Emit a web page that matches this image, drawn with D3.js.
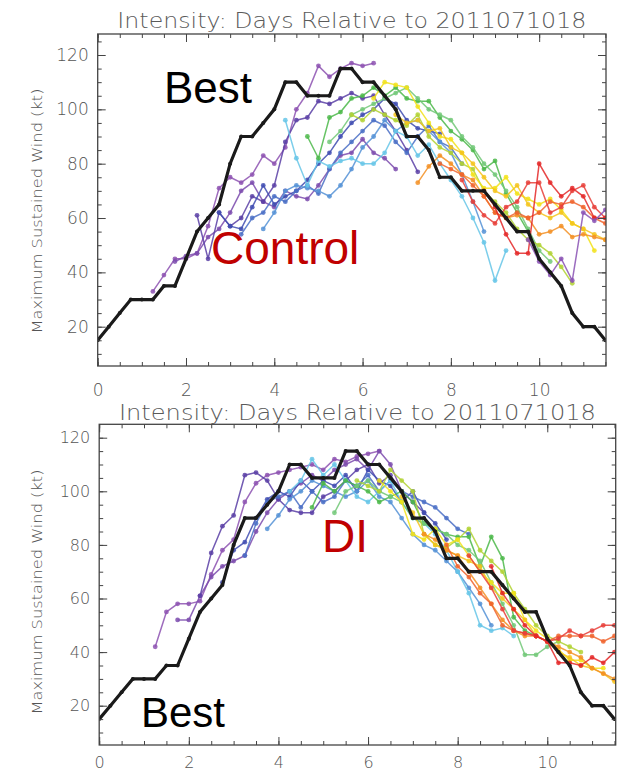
<!DOCTYPE html>
<html><head><meta charset="utf-8">
<script src="https://cdn.jsdelivr.net/npm/d3@7"></script>
<style>body{margin:0;background:#fff}svg{display:block}</style></head>
<body><svg id="chart" width="620" height="772"></svg>
<script>
// ---------------- DATA ----------------
const stepDays = 0.25;
const titleText = "Intensity: Days Relative to 2011071018";
const yAxisTitle = "Maximum Sustained Wind (kt)";
const xTicks = [0, 2, 4, 6, 8, 10];
const yTicks = [20, 40, 60, 80, 100, 120];
// Best track, every 6 h from day 0
const bestWind = [15,20,25,30,30,30,35,35,45,55,60,65,80,90,90,95,100,110,110,105,105,105,115,115,110,110,105,100,90,90,85,75,75,70,70,70,65,60,55,55,45,40,35,25,20,20,15];

// Control ensemble: start day of each forecast and its 6-hourly winds
const controlStart = [1.25,1.75,2.25,2.75,3.25,3.75,4.25,4.75,5.25,5.75,6.25,6.75,7.25,7.75,8.25,8.75,9.75];
const controlWind = [
  [33,39,45,45,47,57,71,75,73,76,83,80,86,100,106,116,112,115,117,116,117],
  [44,46,47,53,56,62,70,73,66,64,70,68,67,72,78,83,84,89,84,82,78],
  [61,45,62,57,60,68,66,72,88,96,97,103,102,104,106,104,105,98,92,85,77],
  [62,57,56,64,72,65,68,70,74,80,84,90,95,98,100,104,102,96,93,92,91],
  [54,60,62,68,66,70,72,69,78,84,88,92,96,94,88,84,90,94,88,86,80],
  [56,62,70,72,71,70,68,72,78,86,90,96,92,95,96,92,88,84,76,66,55],
  [96,82,72,81,79,81,82,80,80,84,92,90,83,87,80,74,68,60,51,37,48],
  [90,82,97,99,104,105,108,105,108,104,103,103,97,92,89,85,78,81,69,62,55],
  [88,92,98,100,102,104,106,108,104,100,98,96,90,86,80,76,70,64,56,48,44],
  [98,96,100,98,96,94,98,90,86,84,80,78,70,66,62,56,52,50,47,42,36],
  [104,110,109,108,101,95,90,89,84,76,71,71,75,69,67,65,67,63,58,56,48],
  [98,95,96,92,93,86,84,80,75,70,68,72,65,62,60,62,58,56,54,52],
  [73,79,83,80,76,74,68,62,60,61,60,54,55,57,53,54,53,52],
  [80,78,76,72,68,62,60,62,60,62,66,65,66,64,60,58],
  [74,66,61,58,64,66,73,73,62,64,70,72,64,60],
  [70,64,54,47,47,80,73,68,71,68,60,60],
  [52,44,39,45,37,62,59,63]
];

// DI ensemble
const diStart = [1.25,1.75,2.25,2.75,3.25,3.75,4.25,4.75,5.25,5.75,6.25,6.75,7.25,7.75,8.25,8.75];
const diWind = [
  [42,55,58,58,59,69,78,82,96,103,106,107,108,109,110,108,112,111,113,114,115],
  [52,52,61,68,72,74,76,85,92,97,100,103,106,104,108,110,112,108,115,110,100],
  [61,77,87,91,106,107,104,97,93,92,92,98,100,104,108,110,103,106,100,96,92],
  [66,78,81,90,97,100,98,104,100,104,102,106,100,108,104,102,96,100,92,88,82],
  [76,88,96,98,100,94,100,96,98,104,102,106,100,104,100,98,96,94,90,86,84],
  [86,91,97,100,104,102,100,98,100,104,98,96,90,84,80,78,74,70,64,58,50],
  [100,104,112,106,110,104,98,96,100,104,96,90,88,84,78,70,62,50,48,49,46],
  [94,103,100,104,102,100,96,98,100,96,88,86,84,83,83,72,83,75,53,48,46],
  [92,100,102,104,100,98,96,90,88,86,84,80,78,74,66,58,50,39,39,42,44],
  [104,102,100,108,104,100,84,80,79,82,86,78,74,70,62,56,50,46,44,42,40],
  [104,100,96,84,82,86,80,82,76,70,66,62,62,52,48,45,41,37,37,34,34],
  [98,92,84,80,78,76,74,72,64,60,56,52,46,44,40,38,35,34,32,29],
  [84,82,78,76,70,64,58,52,48,46,46,44,42,40,38,34,32,30],
  [80,72,68,62,58,50,48,47,46,44,46,46,46,46,44,46],
  [76,70,64,56,48,47,46,44,45,48,46,48,50,50],
  [72,62,56,50,46,44,36,36,35,38,36,40]
];

// ---------------- STYLE ----------------
const palette = ["#8d52b2","#7c4cae","#5a3fa6","#3f4cb2","#4a6ec6","#5592d6","#66c6e8",
                 "#4cb84a","#72c878","#b2d234","#f2e21a","#f5c41c","#f39024","#f0642e","#e8403a","#e42828","#8a52b4"];

const panels = [
  {x0:97.7, x1:606, y0:34, y1:366, y120:55, y20:326.7, xMax:11.514,
   titleY:27.5, titleSize:21, titleLen:469, xLabY:395.5, lab:"Control", labX:211, labY:264, labSize:46,
   best:"Best", bestX:164, bestY:103, bestSize:44, tickFont:17, yTitleY:211,
   starts:controlStart, winds:controlWind},
  {x0:99.2, x1:615.7, y0:424.3, y1:745, y120:437.7, y20:705.7, xMax:11.527,
   titleY:419.5, titleSize:20.5, titleLen:477, xLabY:768, lab:"DI", labX:322, labY:552, labSize:46,
   best:"Best", bestX:141, bestY:727, bestSize:42, tickFont:16, yTitleY:592,
   starts:diStart, winds:diWind}
];

const svg = d3.select("#chart");
const fontAxis = "'DejaVu Sans', 'Liberation Sans', sans-serif";
const fontTitle = "'DejaVu Sans', 'Liberation Sans', sans-serif";

panels.forEach((p, pi) => {
  const x = d3.scaleLinear().domain([0, p.xMax]).range([p.x0, p.x1]);
  const y = d3.scaleLinear().domain([20, 120]).range([p.y20, p.y120]);
  const g = svg.append("g");
  const clipId = "clip" + pi;
  svg.append("clipPath").attr("id", clipId).append("rect")
     .attr("x", p.x0).attr("y", p.y0).attr("width", p.x1 - p.x0).attr("height", p.y1 - p.y0);

  // title
  g.append("text").attr("x", (p.x0 + p.x1) / 2).attr("y", p.titleY)
    .attr("text-anchor", "middle").attr("font-family", fontTitle).attr("font-weight", 200)
    .attr("font-size", p.titleSize)
    .attr("fill", "#5a5a5a").attr("textLength", p.titleLen).attr("lengthAdjust", "spacingAndGlyphs")
    .text(titleText);

  // y axis title
  g.append("text").attr("transform", `translate(42,${p.yTitleY}) rotate(-90)`)
    .attr("text-anchor", "middle").attr("font-family", fontTitle).attr("font-weight", 200)
    .attr("font-size", 14.5)
    .attr("fill", "#555").attr("textLength", 245).attr("lengthAdjust", "spacingAndGlyphs")
    .text(yAxisTitle);

  const plot = g.append("g").attr("clip-path", `url(#${clipId})`);
  const line = d3.line().x(d => x(d.t)).y(d => y(d.v));

  p.starts.forEach((s, i) => {
    const pts = p.winds[i].map((v, j) => ({t: s + j * stepDays, v}));
    const col = palette[i];
    plot.append("path").datum(pts).attr("d", line).attr("fill", "none")
      .attr("stroke", col).attr("stroke-width", 1.5).attr("stroke-opacity", 0.85);
    plot.selectAll(null).data(pts).enter().append("circle")
      .attr("cx", d => x(d.t)).attr("cy", d => y(d.v)).attr("r", 2.4)
      .attr("fill", col).attr("fill-opacity", 0.85);
  });

  const bestPts = bestWind.map((v, j) => ({t: j * stepDays, v}));
  plot.append("path").datum(bestPts).attr("d", line).attr("fill", "none")
    .attr("stroke", "#1a1a1a").attr("stroke-width", 3.2).attr("stroke-linejoin", "miter");
  plot.selectAll(null).data(bestPts).enter().append("circle")
    .attr("cx", d => x(d.t)).attr("cy", d => y(d.v)).attr("r", 2).attr("fill", "#1a1a1a");

  // axes (ticks inward)
  const styleAxis = sel => {
    sel.select(".domain").remove();
    sel.selectAll("line").attr("stroke", "#444").attr("stroke-width", 1);
    sel.selectAll("text").attr("font-family", fontAxis).attr("font-weight", 200)
      .attr("fill", "#555").attr("font-size", p.tickFont);
  };
  const minorX = d3.range(0, 11.51, 0.5);
  const minorY = d3.range(10, 126, 5);
  const inY = v => y(v) > p.y0 && y(v) < p.y1;
  g.append("g").attr("transform", `translate(0,${p.y1})`)
    .call(d3.axisBottom(x).tickValues(minorX).tickSize(-4).tickFormat("")).call(styleAxis);
  const xa = g.append("g").attr("transform", `translate(0,${p.y1})`)
    .call(d3.axisBottom(x).tickValues(xTicks).tickSize(-8).tickFormat(d3.format("d"))).call(styleAxis);
  xa.selectAll("text").attr("dy", null).attr("y", p.xLabY - p.y1);
  g.append("g").attr("transform", `translate(0,${p.y0})`)
    .call(d3.axisTop(x).tickValues(minorX).tickSize(-4).tickFormat("")).call(styleAxis);
  g.append("g").attr("transform", `translate(0,${p.y0})`)
    .call(d3.axisTop(x).tickValues(xTicks).tickSize(-8).tickFormat("")).call(styleAxis);
  g.append("g").attr("transform", `translate(${p.x0},0)`)
    .call(d3.axisLeft(y).tickValues(minorY.filter(inY)).tickSize(-4).tickFormat("")).call(styleAxis);
  g.append("g").attr("transform", `translate(${p.x0},0)`)
    .call(d3.axisLeft(y).tickValues(yTicks).tickSize(-8).tickPadding(9).tickFormat(d3.format("d"))).call(styleAxis);
  g.append("g").attr("transform", `translate(${p.x1},0)`)
    .call(d3.axisRight(y).tickValues(minorY.filter(inY)).tickSize(-4).tickFormat("")).call(styleAxis);
  g.append("g").attr("transform", `translate(${p.x1},0)`)
    .call(d3.axisRight(y).tickValues(yTicks).tickSize(-8).tickFormat("")).call(styleAxis);

  // frame
  g.append("rect").attr("x", p.x0).attr("y", p.y0).attr("width", p.x1 - p.x0).attr("height", p.y1 - p.y0)
    .attr("fill", "none").attr("stroke", "#444").attr("stroke-width", 1.3);

  // labels
  g.append("text").attr("x", p.bestX).attr("y", p.bestY).attr("font-family", "'Liberation Sans', Arial, sans-serif")
    .attr("font-size", p.bestSize).attr("fill", "#000").text(p.best);
  g.append("text").attr("x", p.labX).attr("y", p.labY).attr("font-family", "'Liberation Sans', Arial, sans-serif")
    .attr("font-size", p.labSize).attr("fill", "#c00000").text(p.lab);
});
</script></body></html>
